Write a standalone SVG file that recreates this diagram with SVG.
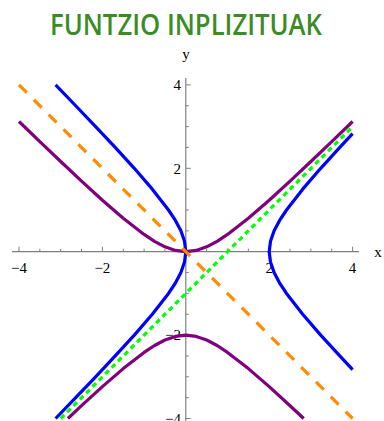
<svg xmlns="http://www.w3.org/2000/svg" width="384" height="421" viewBox="0 0 384 421">
<style>
.title{font-family:"Open Sans","Liberation Sans",sans-serif;font-weight:600;font-size:29px;fill:#3d8b26}
.lab{font-family:"Liberation Serif",serif;font-size:15px;fill:#000}
.axis{stroke:#7f7f7f;stroke-width:1.2;fill:none}
.tick{stroke:#7f7f7f;stroke-width:1;fill:none}
.c{fill:none;stroke-width:3.2;stroke-linejoin:round;stroke-linecap:butt}
</style>
<rect width="384" height="421" fill="#fff"/>
<text class="title" x="186" y="35" text-anchor="middle" textLength="272" lengthAdjust="spacingAndGlyphs">FUNTZIO INPLIZITUAK</text>
<g id="axes">
<line class="axis" x1="12" y1="251.7" x2="359" y2="251.7"/>
<line class="axis" x1="185.8" y1="78" x2="185.8" y2="421"/>
<path class="tick" d="M19,251.7v-5M102.4,251.7v-5M269.2,251.7v-5M352.6,251.7v-5M39.85,251.7v-3M60.7,251.7v-3M81.55,251.7v-3M123.25,251.7v-3M144.1,251.7v-3M164.95,251.7v-3M206.65,251.7v-3M227.5,251.7v-3M248.35,251.7v-3M290.05,251.7v-3M310.9,251.7v-3M331.75,251.7v-3"/>
<path class="tick" d="M185.8,84.9h5M185.8,168.3h5M185.8,335.1h5M185.8,418.5h5M185.8,105.75h3M185.8,126.6h3M185.8,147.45h3M185.8,189.15h3M185.8,210h3M185.8,230.85h3M185.8,272.55h3M185.8,293.4h3M185.8,314.25h3M185.8,356h3M185.8,376.8h3M185.8,397.65h3"/>
<text class="lab" x="186" y="59" text-anchor="middle">y</text>
<text class="lab" x="378" y="257" text-anchor="middle">x</text>
<text class="lab" x="19" y="273" text-anchor="middle">−4</text>
<text class="lab" x="102.4" y="273" text-anchor="middle">−2</text>
<text class="lab" x="269.2" y="273" text-anchor="middle">2</text>
<text class="lab" x="352.6" y="273" text-anchor="middle">4</text>
<text class="lab" x="181" y="90" text-anchor="end">4</text>
<text class="lab" x="181" y="173.5" text-anchor="end">2</text>
<text class="lab" x="181" y="340.3" text-anchor="end">−2</text>
<text class="lab" x="181" y="423.5" text-anchor="end">−4</text>
</g>
<g id="curves">
<g id="blue-hyperbola">
<polyline class="c" stroke="#0000ff" points="352.6,369.7 339.8,355.95 320.7,335.1 302.7,314.25 286.5,293.4 279.6,283 274.1,272.55 270.5,262.1 269.2,251.7 270.5,241.3 274.1,230.85 279.6,220.4 286.5,210 302.7,189.15 320.7,168.3 339.8,147.45 352.6,133.7"/>
<polyline class="c" stroke="#0000ff" points="55.6,84.9 75.7,105.75 95.6,126.6 115.2,147.45 134.3,168.3 152.3,189.15 168.5,210 175.4,220.4 180.9,230.85 184.5,241.3 185.8,251.7 184.5,262.1 180.9,272.55 175.4,283 168.5,293.4 152.3,314.25 134.3,335.1 115.2,355.95 95.6,376.8 75.7,397.65 55.6,418.5"/>
</g>
<g id="purple-hyperbola">
<polyline class="c" stroke="#7f007f" points="19,121.5 39.85,141.6 60.7,161.5 81.55,181.1 102.4,200.2 123.25,218.2 144.1,234.4 154.5,241.3 164.95,246.8 175.4,250.4 185.8,251.7 196.2,250.4 206.65,246.8 217.1,241.3 227.5,234.4 248.35,218.2 269.2,200.2 290.05,181.1 310.9,161.5 331.75,141.6 352.6,121.5"/>
<polyline class="c" stroke="#7f007f" points="67.9,418.5 81.55,405.7 102.4,386.6 123.25,368.6 144.1,352.4 154.5,345.5 164.95,340 175.4,336.4 185.8,335.1 196.2,336.4 206.65,340 217.1,345.5 227.5,352.4 248.35,368.6 269.2,386.6 290.05,405.7 303.7,418.5"/>
</g>
<line id="green-line" class="c" stroke="#00ff00" stroke-dasharray="5,4" x1="60.7" y1="418.5" x2="352.6" y2="126.6"/>
<line id="orange-line" class="c" stroke="#ff8c00" stroke-dasharray="11,10" x1="19" y1="84.9" x2="352.6" y2="418.5"/>
</g>
</svg>
